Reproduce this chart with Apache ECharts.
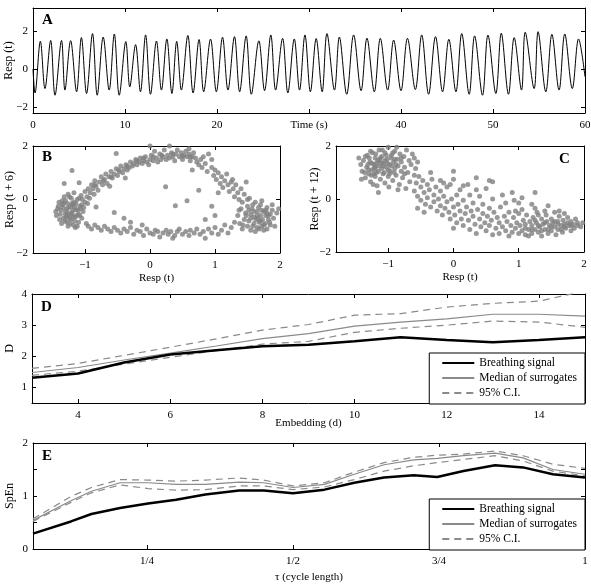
<!DOCTYPE html>
<html>
<head>
<meta charset="utf-8">
<script src="https://cdn.jsdelivr.net/npm/echarts@6/dist/echarts.min.js"></script>
<style>
  html, body { margin: 0; padding: 0; background: #fff; }
  #chart { width: 591px; height: 585px; }
</style>
</head>
<body>
<div id="chart"></div>
<script>
// A: respiration trace, [time (s), resp] read at each peak / trough
const respSignal = [
  [0, 0.0], [0.22, -1.25], [0.8, 1.46], [1.3, -1.02], [1.92, 1.5], [2.39, -1.37], [3.1, 1.5], [3.47, -1.1],
  [4.09, 1.49], [4.74, -1.19], [5.26, 1.65], [5.82, -1.28], [6.47, 1.86], [6.98, -1.37], [7.63, 1.68], [8.28, -1.1],
  [8.84, 1.84], [9.37, -1.37], [10.09, 1.44], [10.52, -0.93], [11.15, 1.28], [11.68, -1.19], [12.24, 1.79], [12.77, -1.32],
  [13.42, 1.47], [13.96, -1.1], [14.55, 1.58], [15.1, -1.28], [15.62, 1.45], [16.13, -1.1], [16.83, 1.76], [17.4, -1.25],
  [18.05, 1.55], [18.55, -1.19], [19.3, 1.57], [19.93, -1.19], [20.6, 1.67], [21.19, -1.1], [21.9, 1.7], [22.46, -1.19],
  [23.17, 1.74], [23.73, -1.32], [24.55, 1.48], [25.17, -1.13], [25.85, 1.79], [26.37, -1.1], [27.13, 1.61], [27.7, -1.25],
  [28.4, 1.58], [28.97, -1.1], [29.56, 1.79], [30.15, -1.19], [30.78, 1.6], [31.43, -1.19], [31.95, 1.86], [32.77, -1.1],
  [33.3, 1.68], [34.1, -1.32], [34.85, 1.79], [35.66, -1.13], [36.3, 1.62], [37.1, -1.19], [37.75, 1.61], [38.55, -1.1],
  [39.2, 1.52], [40.0, -1.13], [40.7, 1.61], [41.56, -1.07], [42.25, 1.79], [43.0, -1.32], [43.75, 1.7], [44.52, -1.19],
  [45.2, 1.56], [45.97, -1.19], [46.6, 1.86], [47.41, -1.32], [48.0, 1.74], [48.86, -1.37], [49.45, 1.78], [50.31, -1.28],
  [50.9, 1.88], [51.68, -1.32], [52.3, 1.65], [53.1, -1.1], [53.5, 1.93], [54.47, -1.02], [54.9, 1.96], [55.74, -1.19],
  [56.4, 1.82], [57.18, -1.1], [57.8, 1.84], [58.62, -1.02], [59.3, 1.58], [60, -0.4]
];
const timeTicks = [0, 10, 20, 30, 40, 50, 60];
const timeTickLabels = ['0', '10', '20', 'Time (s)', '40', '50', '60'];
const respTicks = [-2, 0, 2];
const respTickLabels = ['\u22122', '0', '2'];

// B: Resp(t) vs Resp(t + 6)
const scatterB = [
  [-1.42,-0.35],[-1.38,-0.55],[-1.35,-0.2],[-1.33,-0.7],[-1.3,-0.45],[-1.3,-0.05],[-1.28,-0.85],[-1.27,-0.6],[-1.25,-0.3],[-1.24,0.1],
  [-1.22,-0.75],[-1.2,-0.5],[-1.2,-0.15],[-1.18,-0.95],[-1.17,0.25],[-1.15,-0.65],[-1.14,-0.38],[-1.12,0.0],[-1.1,-0.85],[-1.1,-0.55],
  [-1.08,-0.25],[-1.06,0.15],[-1.05,-0.7],[-1.03,-0.45],[-1.0,-0.1],[-1.0,0.3],[-0.98,-0.9],[-1.36,-0.9],[-1.4,-0.1],[-1.44,-0.6],
  [-1.26,-1.0],[-1.32,0.1],[-1.22,-0.25],[-1.16,-0.8],[-1.12,-1.0],[-1.45,-0.45],[-1.34,-0.3],[-1.29,-0.65],[-1.19,-0.4],[-1.13,-0.6],
  [-1.07,-0.35],[-1.25,-0.5],[-1.31,-0.8],[-1.21,0.05],[-1.09,0.05],[-1.39,-0.75],[-1.27,-0.15],[-1.17,-0.1],[-1.05,-0.2],[-1.15,-1.05],
  [-1.37,-0.4],[-1.33,-0.15],[-1.28,-0.35],[-1.24,-0.7],[-1.21,-0.55],[-1.18,-0.2],[-1.14,-0.15],[-1.11,-0.4],[-1.08,-0.6],[-1.04,0.0],
  [-1.35,-0.05],[-1.26,0.2],[-1.41,-0.25],[-1.23,-0.9],[-1.02,-0.3],[-0.96,-0.15],[-0.93,0.05],[-1.19,-0.65],[-1.3,-0.55],[-1.16,-0.3],
  [-0.95,0.4],[-0.92,0.25],[-0.9,0.55],[-0.88,0.4],[-0.85,0.7],[-0.83,0.5],[-0.8,0.35],[-0.78,0.65],[-0.75,0.85],[-0.73,0.55],
  [-0.7,0.75],[-0.68,0.95],[-0.66,0.6],[-0.63,0.85],[-0.6,1.05],[-0.58,0.8],[-0.55,0.95],[-0.52,1.15],[-0.5,0.9],[-0.47,1.05],
  [-0.45,1.25],[-0.42,1.0],[-0.4,1.15],[-0.37,1.3],[-0.35,1.1],[-0.32,1.2],[-0.3,1.4],[-0.27,1.25],[-0.25,1.35],[-0.22,1.5],
  [-0.2,1.3],[-0.17,1.4],[-0.15,1.55],[-0.12,1.35],[-0.1,1.45],[-0.07,1.6],[-0.05,1.4],[-1.32,0.6],[-1.2,1.08],[-1.09,0.63],
  [-0.97,0.1],[-0.86,0.2],[-0.62,0.5],[-0.52,1.72],[-0.38,0.8],
  [-0.85,0.55],[-0.72,0.7],[-0.6,0.85],[-0.48,1.1],[-0.35,1.25],[-0.2,1.45],[-0.1,1.55],[0.05,1.6],[0.18,1.65],[0.35,1.7],
  [0.5,1.62],[0.62,1.6],
  [0,1.5],[0.02,1.65],[0.05,1.45],[0.07,1.8],[0.1,1.55],[0.12,1.4],[0.15,1.7],[0.17,1.5],[0.2,1.6],[0.22,1.85],
  [0.25,1.5],[0.27,1.65],[0.3,1.55],[0.3,2.0],[0.33,1.75],[0.35,1.6],[0.38,1.45],[0.4,1.7],[0.42,1.85],[0.45,1.6],
  [0.48,1.75],[0.5,1.5],[0.52,1.65],[0.55,1.8],[0.57,1.6],[0.6,1.7],[0.62,1.45],[0.65,1.6],[0.67,1.75],[0.7,1.55],
  [0.72,1.4],[0.75,1.3],[0.78,1.5],[0.8,1.2],[0.82,1.6],[0.85,1.35],[0.88,1.05],[0.0,2.0],[-0.02,1.3],[0.6,1.9],
  [0.95,1.5],[0.9,1.7],[0.65,1.1],
  [0.95,1.2],[0.98,0.9],[1.0,1.1],[1.02,0.75],[1.05,1.0],[1.08,0.6],[1.1,0.85],[1.12,0.45],[1.15,0.7],[1.18,0.95],
  [1.2,0.55],[1.22,0.3],[1.25,0.65],[1.28,0.4],[1.3,0.1],[1.32,0.55],[1.35,0.25],[1.37,0.0],[1.4,0.4],[1.42,-0.1],
  [1.45,0.2],[1.48,0.65],[1.5,0.0],[1.27,0.75],[1.05,0.25],
  [1.35,-0.6],[1.38,-0.9],[1.4,-0.35],[1.42,-1.1],[1.45,-0.75],[1.47,-0.5],[1.5,-1.0],[1.5,-0.25],[1.52,-0.8],[1.55,-0.55],
  [1.55,-1.15],[1.57,-0.35],[1.6,-0.9],[1.6,-0.65],[1.62,-0.1],[1.63,-0.75],[1.65,-1.05],[1.65,-0.45],[1.68,-0.85],[1.7,-0.6],
  [1.7,-0.2],[1.72,-1.0],[1.73,-0.75],[1.75,-0.45],[1.77,-0.9],[1.78,-0.6],[1.8,-1.1],[1.8,-0.3],[1.82,-0.75],[1.85,-0.55],
  [1.85,-0.95],[1.88,-0.4],[1.9,-0.7],[1.92,-1.0],[1.95,-0.5],[1.58,-0.2],[1.67,-0.3],[1.43,-0.95],[1.62,-1.2],[1.75,-1.15],
  [1.53,0.05],[1.98,-0.35],[1.37,-0.4],[1.72,-0.05],[1.88,-0.2],
  [1.55,-0.7],[1.6,-0.45],[1.65,-0.6],[1.7,-0.8],[1.75,-0.95],[1.78,-0.4],[1.82,-0.6],[1.68,-1.1],[1.58,-1.0],[1.48,-0.6],
  [1.84,-0.85],[1.66,-0.7],[1.72,-0.4],[1.52,-0.4],[1.8,-0.5],
  [-0.95,-1.0],[-0.9,-1.1],[-0.85,-0.95],[-0.8,-1.05],[-0.75,-1.15],[-0.7,-1.0],[-0.65,-1.1],[-0.6,-1.2],[-0.55,-1.05],[-0.5,-1.15],
  [-0.45,-1.25],[-0.4,-1.1],[-0.35,-1.2],[-0.3,-1.05],[-0.25,-1.3],[-0.2,-1.15],[-0.15,-1.2],[-0.1,-1.35],[-0.05,-1.1],[0.0,-1.25],
  [0.05,-1.3],[0.08,-1.15],[0.12,-1.2],[0.15,-1.4],[0.2,-1.25],[0.25,-1.15],[0.28,-1.3],[0.32,-1.2],[0.38,-1.35],[0.42,-1.2],
  [0.45,-1.1],[0.5,-1.3],[0.55,-1.2],[0.6,-1.35],[0.62,-1.15],[0.68,-1.25],[0.72,-1.1],[0.77,-1.3],[0.82,-1.2],[0.85,-1.45],
  [0.9,-1.1],[0.95,-1.25],[1.0,-1.05],[1.05,-1.3],[1.1,-1.15],[1.15,-0.95],[1.2,-1.25],[1.25,-1.05],[1.3,-0.85],[-0.3,-0.85],
  [0.35,-1.45],[-0.12,-0.95],
  [0.24,0.48],[0.57,-0.05],[0.39,-0.23],[-0.55,-0.49],[-0.83,-0.28],[0.95,-0.25],[1.0,-0.6],[0.85,-0.75],[0.75,0.35],[-0.4,-0.7]
];

// C: Resp(t) vs Resp(t + 12)
const scatterC = [
  [-1.45,1.55],[-1.42,1.3],[-1.4,1.05],[-1.38,1.45],[-1.35,0.8],[-1.33,1.2],[-1.32,1.65],[-1.3,0.95],[-1.28,1.4],[-1.27,0.65],
  [-1.25,1.1],[-1.24,1.75],[-1.22,1.3],[-1.2,0.85],[-1.2,1.55],[-1.18,1.0],[-1.17,0.5],[-1.15,1.25],[-1.14,1.85],[-1.13,1.45],
  [-1.12,0.75],[-1.1,1.15],[-1.1,1.6],[-1.08,0.95],[-1.07,1.35],[-1.05,0.6],[-1.05,1.75],[-1.03,1.2],[-1.02,1.5],[-1.0,0.85],
  [-1.0,1.95],[-0.98,1.3],[-0.97,1.05],[-0.95,1.65],[-0.93,0.7],[-0.92,1.4],[-0.9,1.15],[-0.9,1.8],[-0.88,0.9],[-0.86,1.5],
  [-0.85,1.25],[-0.83,0.55],[-0.82,1.7],[-0.8,1.05],[-0.8,1.4],[-0.78,0.8],[-0.76,1.6],[-0.75,1.2],[-0.73,0.4],[-0.72,1.85],
  [-0.7,1.0],[-0.68,1.45],[-0.67,0.65],[-0.65,1.3],[-0.63,1.7],[-1.36,1.0],[-1.29,1.55],[-1.21,1.15],[-1.16,1.45],[-1.11,1.35],
  [-1.06,1.0],[-1.01,1.35],[-0.96,1.55],[-0.91,1.0],[-1.26,0.9],[-1.19,1.7],[-1.09,1.85],[-1.31,1.3],[-1.23,0.55],[-0.87,1.95],
  [-0.6,1.55],[-0.58,1.15],[-1.15,0.25],[-0.99,0.45],[-1.41,0.75],[-0.55,1.4],[-0.85,0.35],
  [-1.3,1.1],[-1.25,1.35],[-1.2,1.2],[-1.15,1.05],[-1.12,1.55],[-1.08,1.25],[-1.05,1.45],[-1.0,1.1],[-0.95,1.25],[-0.9,1.5],
  [-1.35,1.6],[-1.27,1.8],[-1.18,1.35],[-1.22,0.95],[-1.03,1.65],[-0.98,0.95],[-0.93,1.75],[-0.88,1.3],[-0.8,1.55],[-0.75,0.95],
  [-0.6,0.9],[-0.6,0.3],[-0.57,0.6],[-0.55,0.1],[-0.53,0.85],[-0.5,0.45],[-0.5,-0.05],[-0.47,0.7],[-0.45,0.25],[-0.43,-0.2],
  [-0.4,0.55],[-0.4,0.05],[-0.37,0.35],[-0.35,-0.3],[-0.33,0.75],[-0.3,0.15],[-0.3,-0.1],[-0.27,0.45],[-0.25,-0.45],[-0.23,0.0],
  [-0.2,0.3],[-0.2,-0.25],[-0.17,-0.6],[-0.15,0.1],[-0.13,-0.35],[-0.1,0.45],[-0.1,-0.1],[-0.07,-0.5],[-0.05,-0.75],[-0.03,0.0],
  [0.0,-0.3],[0.0,1.05],[0.02,-0.6],[0.05,0.15],[0.05,-0.9],[0.07,-0.2],[0.1,-0.45],[0.12,-0.75],[0.15,-0.05],[0.15,-1.0],
  [0.18,-0.55],[0.2,-0.3],[0.22,0.55],[0.23,-0.8],[0.25,-1.15],[0.27,-0.45],[0.3,-0.65],[0.3,-0.15],[0.33,-0.95],[0.35,-1.3],
  [0.35,0.8],[0.37,-0.4],[0.4,-0.75],[0.42,-1.05],[0.45,-0.55],[0.45,-0.2],[0.48,-0.9],[0.5,-1.2],[0.52,-0.65],[0.55,-0.35],
  [0.55,-1.0],[0.58,-0.8],[0.6,-1.35],[0.6,0.65],[0.62,-0.5],[0.65,-1.1],[0.67,-0.7],[0.7,-0.9],[0.7,-1.3],[0.72,-0.3],
  [0.75,-1.05],[0.78,-0.65],[0.8,-1.2],[0.82,-0.85],[0.85,-1.4],[0.85,-0.5],[0.88,-1.0],[-0.45,-0.5],[-0.2,0.7],[0.1,0.35],
  [-0.35,1.0],[0.4,0.1],[0.25,0.15],[-0.55,-0.35],[0.0,-1.1],[0.6,0.0],[-0.15,0.6],
  [0.9,-1.25],[0.92,-0.7],[0.95,-1.1],[0.97,-0.9],[1.0,-1.3],[1.0,-0.55],[1.02,-1.0],[1.05,-1.2],[1.07,-0.8],[1.1,-1.35],
  [1.1,-0.95],[1.12,-0.6],[1.15,-1.15],[1.17,-0.85],[1.2,-1.3],[1.2,-1.0],[1.22,-0.7],[1.25,-1.15],[1.27,-0.9],[1.28,-0.5],
  [1.3,-1.25],[1.32,-1.05],[1.35,-0.75],[1.35,-1.4],[1.37,-0.95],[1.4,-1.15],[1.42,-0.6],[1.43,-0.85],[1.45,-1.3],[1.47,-1.0],
  [1.5,-0.75],[1.5,-1.2],[1.52,-0.9],[1.55,-1.05],[1.55,-0.5],[1.57,-1.35],[1.6,-0.85],[1.6,-1.15],[1.62,-0.65],[1.65,-1.0],
  [1.67,-1.25],[1.68,-0.8],[1.7,-0.95],[1.72,-1.1],[1.75,-0.7],[1.77,-1.0],[1.8,-1.2],[1.8,-0.85],[1.83,-0.95],[1.85,-1.1],
  [1.87,-0.75],[1.9,-1.0],[1.95,-1.05],[1.98,-0.9],[1.05,-0.4],[1.25,-0.35],[1.4,-0.45],[1.15,-1.4],[1.62,-0.45],[1.3,-0.6],
  [0.95,-0.45],[1.45,-0.25],[1.7,-0.55],[1.0,-0.15],[1.2,-0.2],
  [1.1,-1.1],[1.2,-1.15],[1.3,-1.0],[1.4,-0.9],[1.5,-1.05],[1.6,-0.95],[1.7,-1.05],[1.8,-1.0],[1.25,-0.8],[1.45,-1.15],
  [1.55,-0.85],[1.65,-1.15],[1.35,-1.2],[1.75,-0.9],[1.9,-0.9],
  [0.9,0.25],[0.93,-0.05],[1.25,0.25],[0.5,0.4],[0.75,0.15],[0.8,-0.15],[0.35,0.35],[-0.05,0.55],[0.15,0.5],[0.55,0.7],
  [0.0,0.75],[1.05,0.05]
];
const lagTicks = [-1, 0, 1, 2];
const lagTickLabels = ['\u22121', '0', '1', '2'];

// D: correlation dimension vs embedding
const embedDim = [3, 4, 5, 6, 7, 8, 9, 10, 11, 12, 13, 14, 15];
const breathD = [1.31, 1.45, 1.8, 2.06, 2.19, 2.32, 2.37, 2.48, 2.61, 2.52, 2.45, 2.52, 2.61];
const medianD = [1.48, 1.64, 1.88, 2.1, 2.33, 2.57, 2.73, 2.97, 3.1, 3.2, 3.35, 3.35, 3.29];
const upperD = [1.61, 1.77, 2.03, 2.29, 2.56, 2.84, 3.02, 3.32, 3.37, 3.58, 3.7, 3.77, 4.1];
const lowerD = [1.39, 1.52, 1.75, 1.97, 2.18, 2.39, 2.48, 2.77, 2.9, 3.0, 3.13, 3.1, 2.93];
const embedTicks = [4, 6, 8, 10, 12, 14];
const dTicks = [1, 2, 3, 4];

// E: sample entropy vs tau
const tauE = [0.055, 0.12, 0.155, 0.204, 0.252, 0.3, 0.35, 0.408, 0.45, 0.5, 0.554, 0.605, 0.656, 0.707, 0.747, 0.792, 0.846, 0.894, 0.945, 1.0];
const breathE = [0.29, 0.52, 0.66, 0.775, 0.857, 0.93, 1.03, 1.105, 1.105, 1.05, 1.12, 1.25, 1.35, 1.39, 1.36, 1.47, 1.58, 1.54, 1.41, 1.35];
const medianE = [0.54, 0.91, 1.09, 1.25, 1.25, 1.22, 1.22, 1.26, 1.25, 1.16, 1.22, 1.41, 1.59, 1.68, 1.71, 1.76, 1.81, 1.72, 1.5, 1.41];
const upperE = [0.57, 0.99, 1.16, 1.31, 1.3, 1.28, 1.3, 1.34, 1.3, 1.19, 1.25, 1.45, 1.63, 1.73, 1.77, 1.79, 1.85, 1.76, 1.6, 1.52];
const lowerE = [0.52, 0.88, 1.06, 1.21, 1.14, 1.11, 1.12, 1.19, 1.19, 1.12, 1.17, 1.31, 1.47, 1.57, 1.63, 1.69, 1.76, 1.66, 1.47, 1.38];
const tauTicks = [0.25, 0.5, 0.75, 1];
const tauTickLabels = ['1/4', '1/2', '3/4', '1'];
const spenTicks = [0, 0.5, 1, 1.5, 2];
const spenTickLabels = ['0', '', '1', '', '2'];

const legendNames = ['Breathing signal', 'Median of surrogates', '95% C.I.'];
const panelLetters = ['A', 'B', 'C', 'D', 'E'];

const FONT = 'Liberation Serif';
const txt = { color: '#000', fontFamily: FONT, fontSize: 11 };

function labelFor(ticks, labels) {
  return function (v) {
    const i = ticks.findIndex(t => Math.abs(t - v) < 1e-9);
    return i >= 0 ? labels[i] : '';
  };
}

// bottom + mirrored top axis
function xAxes(grid, min, max, ticks, labels, name, nameGap) {
  const line = { onZero: false, lineStyle: { color: '#000', width: 1 } };
  const tick = { inside: true, length: 4, customValues: ticks, lineStyle: { color: '#000' } };
  return [
    {
      type: 'value', gridIndex: grid, position: 'bottom', min: min, max: max,
      axisLine: line, axisTick: tick, splitLine: { show: false },
      axisLabel: Object.assign({ customValues: ticks, formatter: labelFor(ticks, labels), margin: 7 }, txt),
      name: name || '', nameLocation: 'middle', nameGap: nameGap || 0, nameMoveOverlap: false,
      nameTextStyle: Object.assign({}, txt)
    },
    {
      type: 'value', gridIndex: grid, position: 'top', min: min, max: max,
      axisLine: line, axisTick: tick, splitLine: { show: false }, axisLabel: { show: false }
    }
  ];
}

// left + mirrored right axis
function yAxes(grid, min, max, ticks, labels, name, nameGap) {
  const line = { onZero: false, lineStyle: { color: '#000', width: 1 } };
  const tick = { inside: true, length: 4, customValues: ticks, lineStyle: { color: '#000' } };
  return [
    {
      type: 'value', gridIndex: grid, position: 'left', min: min, max: max,
      axisLine: line, axisTick: tick, splitLine: { show: false },
      axisLabel: Object.assign({ customValues: ticks, formatter: labelFor(ticks, labels), margin: 5 }, txt),
      name: name, nameLocation: 'middle', nameGap: nameGap, nameRotate: 90, nameMoveOverlap: false,
      nameTextStyle: Object.assign({}, txt, { fontSize: 12 })
    },
    {
      type: 'value', gridIndex: grid, position: 'right', min: min, max: max,
      axisLine: line, axisTick: tick, splitLine: { show: false }, axisLabel: { show: false }
    }
  ];
}

const embedLabels = embedTicks.map(String);
const dLabels = dTicks.map(String);

const xAxis = [].concat(
  xAxes(0, 0, 60, timeTicks, timeTickLabels),
  xAxes(1, -1.8, 2, lagTicks, lagTickLabels, 'Resp (t)', 20),
  xAxes(2, -1.8, 2, lagTicks, lagTickLabels, 'Resp (t)', 20),
  xAxes(3, 3, 15, embedTicks, embedLabels, 'Embedding (d)', 15),
  xAxes(4, 0.055, 1, tauTicks, tauTickLabels, '\u03c4 (cycle length)', 23)
);
const yAxis = [].concat(
  yAxes(0, -2.3, 3.2, respTicks, respTickLabels, 'Resp (t)', 18),
  yAxes(1, -2, 2, respTicks, respTickLabels, 'Resp (t + 6)', 17),
  yAxes(2, -2, 2, respTicks, respTickLabels, 'Resp (t + 12)', 15),
  yAxes(3, 0.5, 4, dTicks, dLabels, 'D', 16),
  yAxes(4, 0, 2, spenTicks, spenTickLabels, 'SpEn', 17)
);

const zip = (xs, ys) => xs.map((x, i) => [x, ys[i]]);
const black = { color: '#000', width: 2.5 };
const gray = { color: '#8a8a8a', width: 1.2 };
const dash = { color: '#8a8a8a', width: 1.2, type: [7, 5] };

function curveSet(ax, xs, b, m, u, l) {
  const base = { type: 'line', xAxisIndex: ax, yAxisIndex: ax, symbol: 'none', animation: false };
  return [
    Object.assign({ name: legendNames[2], data: zip(xs, u), lineStyle: dash, itemStyle: { color: '#8a8a8a' }, z: 2 }, base),
    Object.assign({ name: legendNames[2], data: zip(xs, l), lineStyle: dash, itemStyle: { color: '#8a8a8a' }, z: 2 }, base),
    Object.assign({ name: legendNames[1], data: zip(xs, m), lineStyle: gray, itemStyle: { color: '#8a8a8a' }, z: 3 }, base),
    Object.assign({ name: legendNames[0], data: zip(xs, b), lineStyle: black, itemStyle: { color: '#000' }, z: 4 }, base)
  ];
}

const series = [
  {
    type: 'line', xAxisIndex: 0, yAxisIndex: 0, data: respSignal, symbol: 'none', smooth: 0.35,
    lineStyle: { color: '#000', width: 1 }, animation: false
  },
  {
    type: 'scatter', xAxisIndex: 2, yAxisIndex: 2, data: scatterB, symbolSize: 5,
    itemStyle: { color: '#7f7f7f' }, animation: false
  },
  {
    type: 'scatter', xAxisIndex: 4, yAxisIndex: 4, data: scatterC, symbolSize: 5,
    itemStyle: { color: '#7f7f7f' }, animation: false
  }
].concat(
  curveSet(6, embedDim, breathD, medianD, upperD, lowerD),
  curveSet(8, tauE, breathE, medianE, upperE, lowerE)
);

function legendAt(top) {
  return {
    data: legendNames, orient: 'vertical', right: 6, top: top,
    padding: [4, 8, 5, 12], itemWidth: 32, itemHeight: 10, itemGap: 3,
    itemStyle: { opacity: 0 },
    backgroundColor: '#fff', borderColor: '#000', borderWidth: 1, borderRadius: 0,
    selectedMode: false, textStyle: { color: '#000', fontFamily: FONT, fontSize: 11.5 }
  };
}

const letterPos = [[42, 21], [42, 158], [559, 160], [41, 308], [42, 457]];

const option = {
  backgroundColor: '#fff',
  animation: false,
  grid: [
    { left: 33, top: 8, width: 552, height: 105, outerBoundsMode: 'none' },
    { left: 33, top: 146, width: 247, height: 107, outerBoundsMode: 'none' },
    { left: 336, top: 146, width: 248, height: 106, outerBoundsMode: 'none' },
    { left: 32, top: 294, width: 553, height: 109, outerBoundsMode: 'none' },
    { left: 33, top: 443, width: 552, height: 106, outerBoundsMode: 'none' }
  ],
  xAxis: xAxis,
  yAxis: yAxis,
  legend: [legendAt(353), legendAt(499)],
  graphic: panelLetters.map((t, i) => ({
    type: 'text', left: letterPos[i][0], top: letterPos[i][1] - 8, z: 10,
    style: { text: t, fill: '#000', font: 'bold 15px "Liberation Serif"' }
  })),
  series: series
};

const chart = echarts.init(document.getElementById('chart'), null, { renderer: 'canvas' });
chart.setOption(option);
</script>
</body>
</html>
